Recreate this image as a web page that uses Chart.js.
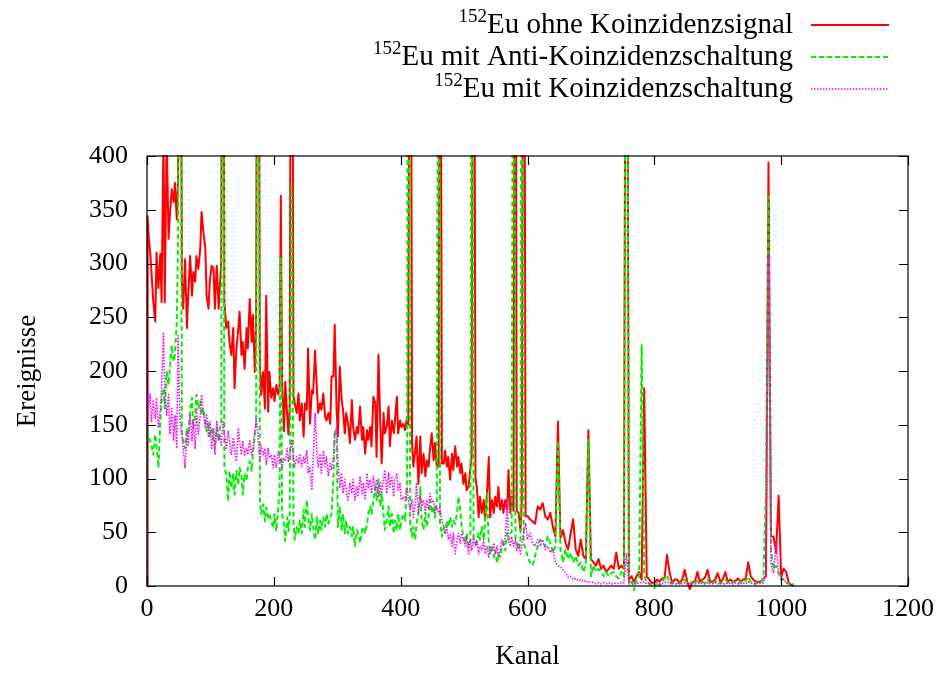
<!DOCTYPE html>
<html>
<head>
<meta charset="utf-8">
<script src="https://cdn.jsdelivr.net/npm/chart.js"></script>
<style>
html,body{margin:0;padding:0;background:#fff;}
#wrap{width:942px;height:673px;position:relative;}
</style>
</head>
<body>
<div id="wrap"><canvas id="c" width="942" height="673"></canvas></div>
<script>
// ---- data ----
const channels = [
  0,1,2,5,7, 10,13,15,18,21, 23,26,28,31,34, 36,39,42,44,47, 49,52,55,57,60, 63,65,68,71,73, 76,78,81,84,86, 89,92,94,97,99, 102,105,107,110,113,
  115,117,120,122,125, 128,130,133,136,138, 141,144,146,149,151, 154,157,159,162,165, 167,170,172,175,178, 180,183,186,188,191, 193,196,199,201,204, 207,209,211,213,216, 218,221,223,225,228,
  231,233,236,239,241, 244,247,249,252,254, 257,260,262,265,268, 270,273,275,278,281, 283,286,289,291,294, 296,299,301,304,307, 309,312,314,317,320, 323,325,328,331,333, 336,339,341,344,347, 349,352,354,357,360, 362,365,368,370,373, 375,378,381,383,386, 389,391,394,396,399, 401,404,
  407,410,412,415,418, 420,423,425,428,431, 433,436,439,441,444, 446,449,452,454,457, 460,462,465,468,470, 473,475,478,481,483, 486,489,491,494,496, 499,502,504,507,510, 512,515,518,520,523, 525,528,531,533,536, 539,541,544,547,549, 552,554,557,560,562, 565,568,570,573,575, 578,581,583,586,589, 591,594,597,
  600,604,608,612,616,620,624,628,632,636,640,644,648,652,656,660,664,668,672,676,680,684,688,692,696,
  700,704,708,712,716,720,724,728,732,736,740,744,748,752,756,760,764,768,772,776,780,784,788,792,796,
  800,804,808,812,816,820,824,828,832,836,840,844,848,852,856,860,864,868,872,876,880,884,888,892,896,
  900,904,908,912,916,920,924,928,932,936,940,944,948,952,956,960,964,968,972,976,980,984,988,992,996,
  1000,1004,1008,1012,1016,1020
];

const ohneKoinzidenz = [
  0,344,330,310,292, 264,246,310,277,309, 264,420,264,420,323, 344,369,357,375,341, 380,900,283,258,304, 240,270,307,270,292, 283,307,295,314,348, 329,314,270,258,283, 298,295,258,298,258,
  280,300,900,264,240, 246,227,215,240,184, 221,240,255,215,227, 202,240,221,267,227, 252,199,240,900,209, 178,199,165,270,162, 199,175,184,172,187, 178,184,363,190,144, 190,159,141,165,900,
  176,170,161,179,154, 170,139,170,164,221, 151,182,179,219,182, 161,170,164,179,157, 154,161,151,195,195, 243,164,139,204,173, 164,142,161,151,133, 173,148,136,148,142, 167,136,148,123,145, 136,148,130,176,170, 120,215,148,114,161, 142,148,167,130,154, 142,154,176,142,154, 148,151,
  145,157,150,900,133, 111,126,139,95,139, 105,123,102,117,111, 126,142,117,133,111, 111,900,114,114,126, 111,120,99,123,108, 130,111,120,105,114, 95,105,89,92,111, 120,900,100,92,64, 83,68,80,61,86, 120,64,80,68,83, 74,92,71,80,68, 80,71,108,68,83, 70,900,70,68,52, 80,900,65,
  65,62,60,58,74,71,77,65,62,68,55,46,153,45,52,40,34,49,62,34,28,43,28,25,145,
  25,22,19,25,16,19,13,16,19,16,31,16,19,16,900,6,9,4,9,13,6,184,9,6,3,
  3,6,4,7,7,29,13,3,6,6,3,6,15,4,-3,4,4,13,4,6,8,15,4,4,6,
  12,4,6,13,4,6,4,5,7,4,6,7,22,9,6,4,4,4,7,9,394,46,46,31,84,
  9,16,13,3,1,0
];

const antiKoinzidenz = [
  0,147,140,135,131, 122,141,131,110,153, 172,184,165,199,187, 202,224,209,215,246, 320,900,141,135,128, 147,141,165,175,147, 159,178,165,172,159, 165,153,144,153,138, 147,135,128,147,135,
  147,153,900,110,104, 79,107,91,104,85, 107,94,110,104,85, 104,98,110,116,107, 122,141,150,900,79, 67,76,60,73,64, 67,60,54,67,51, 73,90,306,67,57, 42,64,51,64,372,
  60,43,55,49,61, 49,71,55,80,64, 52,67,55,43,64, 49,61,52,64,55, 67,58,64,67,100, 145,140,55,74,52, 67,49,61,49,55, 46,55,37,52,49, 40,52,55,49,58, 67,74,67,80,92, 80,99,74,86,67, 52,61,74,55,67, 49,61,52,67,52, 61,67,
  61,100,900,58,46, 55,43,58,68,92, 61,52,68,55,64, 80,68,74,64,80, 900,60,46,55,49, 61,55,64,55,61, 58,68,83,71,55, 46,40,49,37,43, 900,43,40,40,49, 43,55,43,60,86, 40,30,37,27,33, 21,30,27,37,40, 33,49,43,49,50, 900,45,40,34,40, 900,40,34,
  28,22,19,28,37,43,40,37,46,40,31,37,135,34,22,34,25,31,22,28,19,22,13,19,136,
  9,19,13,16,13,9,13,9,12,13,9,7,13,9,900,3,6,-4,6,7,224,10,3,2,0,
  -2,3,0,3,7,10,3,2,4,3,2,4,6,3,2,4,3,5,2,4,3,6,2,3,4,
  5,2,4,6,3,2,4,3,2,4,3,5,9,4,3,2,4,3,8,90,362,34,16,19,12,
  6,6,3,2,4,0
];

const mitKoinzidenz = [
  0,184,165,178,153, 172,156,175,147,165, 184,236,184,159,178, 141,165,135,159,128, 233,153,141,128,110, 144,131,159,135,153, 128,165,141,159,178, 159,147,159,138,153, 128,147,122,153,135,
  141,131,153,141,128, 144,135,122,138,128, 116,147,135,122,135, 122,128,122,135,122, 128,144,156,141,116, 131,122,128,113,128, 119,122,110,122,110, 125,116,118,110,119, 116,128,116,122,135,
  120,111,120,114,123, 111,120,114,126,105, 111,89,117,161,123, 111,123,105,126,111, 120,102,114,108,120, 142,148,117,92,105, 86,99,89,80,96, 86,99,80,92,83, 102,86,96,80,105, 92,99,86,102,89, 99,83,96,86,99, 108,86,105,92,102, 83,99,105,89,96, 80,83,
  80,92,80,71,80, 64,77,95,68,83, 74,80,68,80,71, 86,77,80,68,74, 68,74,61,55,49, 55,43,49,37,49, 30,43,49,40,49, 43,37,46,30,43, 33,46,37,43,30, 37,33,43,30,37, 27,37,33,40,30, 37,27,33,43,37, 46,80,43,37,46, 37,43,33,40,30, 37,49,58,
  43,49,40,37,43,37,43,34,37,31,34,22,19,18,15,12,8,9,6,7,5,6,4,5,3,
  4,3,2,3,2,3,2,3,2,2,3,2,3,3,30,2,3,2,2,3,3,4,2,3,2,
  2,3,2,2,3,4,2,3,2,2,3,2,3,2,2,3,2,2,3,2,2,3,2,2,3,
  2,3,2,2,3,2,2,3,2,2,3,2,4,3,2,2,3,2,3,10,310,20,12,40,12,
  10,6,3,2,1,0
];

const xTickValues = [0, 200, 400, 600, 800, 1000, 1200];
const yTickValues = [0, 50, 100, 150, 200, 250, 300, 350, 400];
const legendIsotope = '152';
const seriesNames = ['Eu ohne Koinzidenzsignal', 'Eu mit Anti-Koinzidenzschaltung', 'Eu mit Koinzidenzschaltung'];
const xTitle = 'Kanal';
const yTitle = 'Ereignisse';

// ---- build ----
const FONT = '"Liberation Serif", "Times New Roman", serif';
function pts(vals){ return channels.map((c,i)=>({x:c, y:vals[i]})); }

const datasets = [
  {label: legendIsotope + seriesNames[0], data: pts(ohneKoinzidenz), borderColor:'#ff0000', borderWidth:2, order:3,
   clip:{left:1, top:1, right:1, bottom:8}},
  {label: legendIsotope + seriesNames[1], data: pts(antiKoinzidenz), borderColor:'#00ee00', borderWidth:2, borderDash:[5,3], order:2,
   clip:{left:1, top:1, right:1, bottom:8}},
  {label: legendIsotope + seriesNames[2], data: pts(mitKoinzidenz), borderColor:'#ff00ff', borderWidth:1.6, borderDash:[1.5,1.5], order:1}
];
datasets.forEach(d=>{ d.pointRadius=0; d.tension=0; d.fill=false; d.borderJoinStyle='round'; });

const framePlugin = {
  id:'frame',
  afterDatasetsDraw(chart){
    const {ctx, chartArea:a, scales:{x, y}} = chart;
    ctx.save();
    ctx.strokeStyle = '#000';
    ctx.lineWidth = 1.2;
    ctx.beginPath();
    const L = 9;
    xTickValues.forEach(v=>{
      const px = Math.round(x.getPixelForValue(v)) + 0.5;
      ctx.moveTo(px, a.bottom); ctx.lineTo(px, a.bottom - L);
      ctx.moveTo(px, a.top); ctx.lineTo(px, a.top + L);
    });
    yTickValues.forEach(v=>{
      const py = Math.round(y.getPixelForValue(v)) + 0.5;
      ctx.moveTo(a.left, py); ctx.lineTo(a.left + L, py);
      ctx.moveTo(a.right, py); ctx.lineTo(a.right - L, py);
    });
    ctx.stroke();
    ctx.strokeRect(a.left, a.top, a.right - a.left, a.bottom - a.top);
    ctx.restore();
  }
};

const legendPlugin = {
  id:'gpLegend',
  afterDraw(chart){
    const ctx = chart.ctx;
    const textRight = 793, lineL = 811, lineR = 889;
    const baselines = [33, 65, 97];
    ctx.save();
    chart.data.datasets.forEach((ds, i)=>{
      const b = baselines[i];
      ctx.font = '29px ' + FONT;
      ctx.fillStyle = '#000';
      ctx.textAlign = 'right';
      ctx.textBaseline = 'alphabetic';
      const main = seriesNames[i];
      ctx.fillText(main, textRight, b);
      const w = ctx.measureText(main).width;
      ctx.font = '19px ' + FONT;
      ctx.fillText(legendIsotope, textRight - w, b - 11);
      ctx.strokeStyle = ds.borderColor;
      ctx.lineWidth = ds.borderWidth;
      ctx.setLineDash(ds.borderDash || []);
      ctx.beginPath();
      ctx.moveTo(lineL, b - 8);
      ctx.lineTo(lineR, b - 8);
      ctx.stroke();
      ctx.setLineDash([]);
    });
    ctx.restore();
  }
};

new Chart(document.getElementById('c'), {
  type:'line',
  data:{datasets},
  options:{
    responsive:false,
    animation:false,
    devicePixelRatio:1,
    layout:{padding:{left:0, right:34, top:156, bottom:0}},
    plugins:{legend:{display:false}, tooltip:{enabled:false}},
    scales:{
      x:{
        type:'linear', min:0, max:1200,
        afterBuildTicks(s){ s.ticks = xTickValues.map(v=>({value:v})); },
        afterFit(s){ s.height = 87; },
        grid:{display:false, drawTicks:false},
        border:{display:false},
        ticks:{color:'#000', font:{family:FONT, size:26}, padding:8, maxRotation:0, autoSkip:false,
               callback:(v)=>String(v)},
        title:{display:true, text:xTitle, color:'#000', font:{family:FONT, size:27}, padding:{top:0, bottom:0}}
      },
      y:{
        type:'linear', min:0, max:400,
        afterBuildTicks(s){ s.ticks = yTickValues.map(v=>({value:v})); },
        afterFit(s){ s.width = 147; },
        grid:{display:false, drawTicks:false},
        border:{display:false},
        ticks:{color:'#000', font:{family:FONT, size:26}, padding:19, autoSkip:false,
               callback:(v)=>String(v)},
        title:{display:true, text:yTitle, color:'#000', font:{family:FONT, size:27}, padding:{top:12, bottom:0}}
      }
    }
  },
  plugins:[framePlugin, legendPlugin]
});
</script>
</body>
</html>
